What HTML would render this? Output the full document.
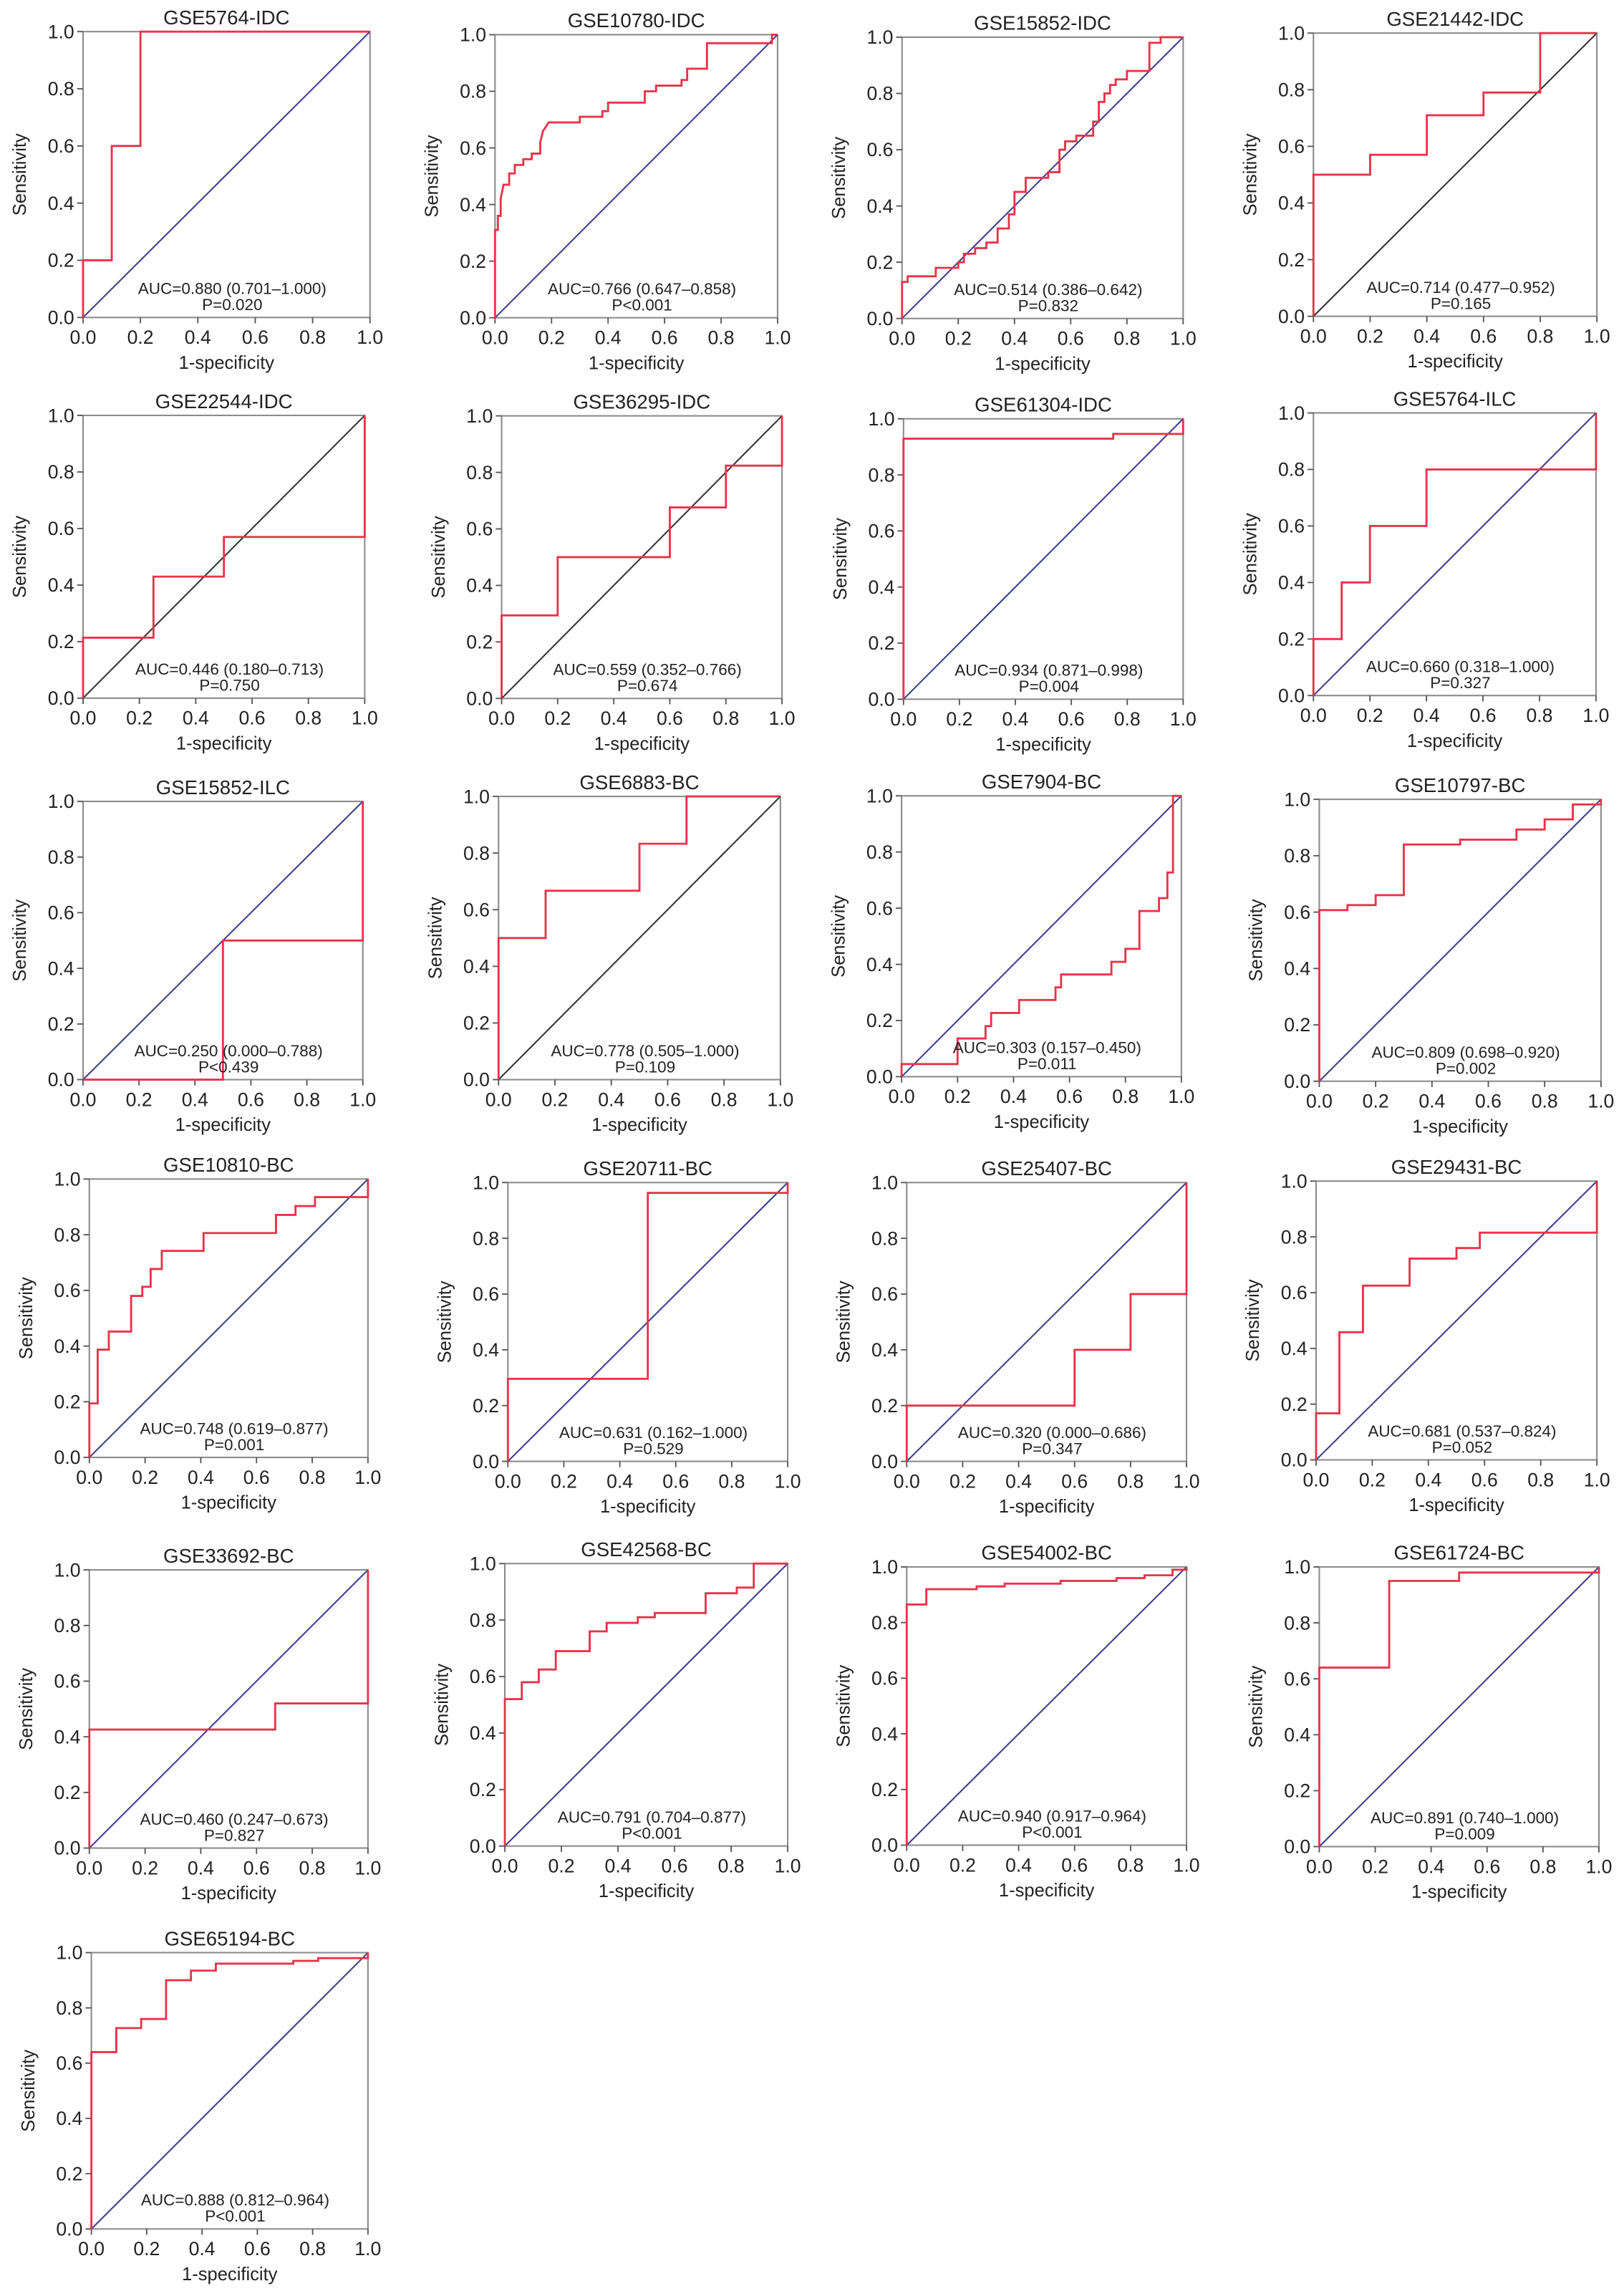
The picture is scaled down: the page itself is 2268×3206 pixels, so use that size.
<!DOCTYPE html>
<html><head><meta charset="utf-8"><style>
html,body{margin:0;padding:0;background:#fff;}
svg{display:block;font-family:"Liberation Sans",Arial,sans-serif;}
</style></head><body>
<svg id="fig" width="2268" height="3206" viewBox="0 0 1109 1568" xmlns="http://www.w3.org/2000/svg"></svg>
<script>
const titles=["GSE5764-IDC","GSE10780-IDC","GSE15852-IDC","GSE21442-IDC","GSE22544-IDC","GSE36295-IDC","GSE61304-IDC","GSE5764-ILC","GSE15852-ILC","GSE6883-BC","GSE7904-BC","GSE10797-BC","GSE10810-BC","GSE20711-BC","GSE25407-BC","GSE29431-BC","GSE33692-BC","GSE42568-BC","GSE54002-BC","GSE61724-BC","GSE65194-BC"];
const aucLabels=["AUC=0.880 (0.701–1.000)","AUC=0.766 (0.647–0.858)","AUC=0.514 (0.386–0.642)","AUC=0.714 (0.477–0.952)","AUC=0.446 (0.180–0.713)","AUC=0.559 (0.352–0.766)","AUC=0.934 (0.871–0.998)","AUC=0.660 (0.318–1.000)","AUC=0.250 (0.000–0.788)","AUC=0.778 (0.505–1.000)","AUC=0.303 (0.157–0.450)","AUC=0.809 (0.698–0.920)","AUC=0.748 (0.619–0.877)","AUC=0.631 (0.162–1.000)","AUC=0.320 (0.000–0.686)","AUC=0.681 (0.537–0.824)","AUC=0.460 (0.247–0.673)","AUC=0.791 (0.704–0.877)","AUC=0.940 (0.917–0.964)","AUC=0.891 (0.740–1.000)","AUC=0.888 (0.812–0.964)"];
const pLabels=["P=0.020","P<0.001","P=0.832","P=0.165","P=0.750","P=0.674","P=0.004","P=0.327","P<0.439","P=0.109","P=0.011","P=0.002","P=0.001","P=0.529","P=0.347","P=0.052","P=0.827","P<0.001","P<0.001","P=0.009","P<0.001"];
const tickValues=[0,0.2,0.4,0.6,0.8,1.0];
const tickLabels=["0.0","0.2","0.4","0.6","0.8","1.0"];
const fprs=[
[0,0,0.1,0.1,0.2,0.2,1],
[0,0,0.01,0.01,0.02,0.02,0.03,0.05,0.05,0.07,0.07,0.1,0.1,0.13,0.13,0.16,0.16,0.17,0.19,0.3,0.3,0.38,0.38,0.4,0.4,0.53,0.53,0.57,0.57,0.66,0.66,0.68,0.68,0.75,0.75,0.98,0.98,1],
[0,0,0.02,0.02,0.12,0.12,0.2,0.2,0.22,0.22,0.26,0.26,0.3,0.3,0.34,0.34,0.38,0.38,0.4,0.4,0.44,0.44,0.52,0.52,0.56,0.56,0.58,0.58,0.62,0.62,0.68,0.68,0.7,0.7,0.72,0.72,0.74,0.74,0.76,0.76,0.8,0.8,0.88,0.88,0.92,0.92,1],
[0,0,0.2,0.2,0.4,0.4,0.6,0.6,0.8,0.8,1],
[0,0,0.25,0.25,0.5,0.5,1,1],
[0,0,0.2,0.2,0.6,0.6,0.8,0.8,1,1],
[0,0,0.75,0.75,1,1],
[0,0,0.1,0.1,0.2,0.2,0.4,0.4,1,1],
[0,0.5,0.5,1,1],
[0,0,0.167,0.167,0.5,0.5,0.667,0.667,1],
[0,0,0.2,0.2,0.3,0.3,0.32,0.32,0.42,0.42,0.55,0.55,0.57,0.57,0.75,0.75,0.8,0.8,0.85,0.85,0.92,0.92,0.95,0.95,0.97,0.97,1],
[0,0,0.1,0.1,0.2,0.2,0.3,0.3,0.5,0.5,0.7,0.7,0.8,0.8,0.9,0.9,1,1],
[0,0,0.03,0.03,0.07,0.07,0.15,0.15,0.19,0.19,0.22,0.22,0.26,0.26,0.41,0.41,0.67,0.67,0.74,0.74,0.81,0.81,1,1],
[0,0,0.5,0.5,1,1],
[0,0,0.6,0.6,0.8,0.8,1,1],
[0,0,0.083,0.083,0.167,0.167,0.333,0.333,0.5,0.5,0.583,0.583,1,1],
[0,0,0.667,0.667,1,1],
[0,0,0.06,0.06,0.12,0.12,0.18,0.18,0.3,0.3,0.36,0.36,0.47,0.47,0.53,0.53,0.71,0.71,0.82,0.82,0.88,0.88,1],
[0,0,0.07,0.07,0.25,0.25,0.35,0.35,0.55,0.55,0.75,0.75,0.85,0.85,0.95,0.95,1,1],
[0,0,0.25,0.25,0.5,0.5,1,1],
[0,0,0.09,0.09,0.18,0.18,0.27,0.27,0.36,0.36,0.45,0.45,0.73,0.73,0.82,0.82,1,1]
];
const tprs=[
[0,0.2,0.2,0.6,0.6,1,1],
[0,0.31,0.31,0.36,0.36,0.42,0.47,0.47,0.51,0.51,0.54,0.54,0.56,0.56,0.58,0.58,0.62,0.66,0.69,0.69,0.71,0.71,0.73,0.73,0.76,0.76,0.8,0.8,0.82,0.82,0.84,0.84,0.88,0.88,0.97,0.97,1,1],
[0,0.13,0.13,0.15,0.15,0.18,0.18,0.2,0.2,0.23,0.23,0.25,0.25,0.27,0.27,0.32,0.32,0.37,0.37,0.45,0.45,0.5,0.5,0.52,0.52,0.6,0.6,0.63,0.63,0.65,0.65,0.7,0.7,0.77,0.77,0.8,0.8,0.83,0.83,0.85,0.85,0.88,0.88,0.98,0.98,1,1],
[0,0.5,0.5,0.57,0.57,0.71,0.71,0.79,0.79,1,1],
[0,0.214,0.214,0.43,0.43,0.57,0.57,1],
[0,0.294,0.294,0.5,0.5,0.676,0.676,0.824,0.824,1],
[0,0.929,0.929,0.946,0.946,1],
[0,0.2,0.2,0.4,0.4,0.6,0.6,0.8,0.8,1],
[0,0,0.5,0.5,1],
[0,0.5,0.5,0.667,0.667,0.833,0.833,1,1],
[0,0.045,0.045,0.136,0.136,0.18,0.18,0.227,0.227,0.273,0.273,0.318,0.318,0.364,0.364,0.409,0.409,0.455,0.455,0.59,0.59,0.636,0.636,0.727,0.727,1,1],
[0,0.607,0.607,0.625,0.625,0.66,0.66,0.84,0.84,0.857,0.857,0.893,0.893,0.929,0.929,0.982,0.982,1],
[0,0.194,0.194,0.387,0.387,0.452,0.452,0.58,0.58,0.613,0.613,0.677,0.677,0.742,0.742,0.806,0.806,0.871,0.871,0.903,0.903,0.935,0.935,1],
[0,0.296,0.296,0.963,0.963,1],
[0,0.2,0.2,0.4,0.4,0.6,0.6,1],
[0,0.167,0.167,0.458,0.458,0.625,0.625,0.722,0.722,0.76,0.76,0.815,0.815,1],
[0,0.426,0.426,0.52,0.52,1],
[0,0.52,0.52,0.58,0.58,0.625,0.625,0.69,0.69,0.76,0.76,0.79,0.79,0.81,0.81,0.825,0.825,0.895,0.895,0.915,0.915,1,1],
[0,0.865,0.865,0.92,0.92,0.93,0.93,0.94,0.94,0.95,0.95,0.96,0.96,0.97,0.97,0.99,0.99,1],
[0,0.64,0.64,0.95,0.95,0.98,0.98,1],
[0,0.64,0.64,0.727,0.727,0.76,0.76,0.9,0.9,0.935,0.935,0.96,0.96,0.97,0.97,0.98,0.98,1]
];
const boxes=[[56.6,252.6,21.6,216.8],[338,531,23.7,217],[616,808,25.4,217.5],[897,1090.6,22.6,216],
[56.6,249,283.7,476.8],[342.5,534,284,477],[617,808,286,477.5],[897,1090,282,475],
[56.6,247.7,547.3,737.3],[340.4,532.9,543.9,737.3],[615.7,806.8,543.5,735.3],[901,1093.4,545.9,738.4],
[60.9,251.2,805.2,995.3],[346.8,537.9,807.6,998],[619.2,810.3,807.6,998],[898.8,1090.6,806.6,997],
[60.9,251.2,1072.1,1262.1],[344.7,537.9,1067.8,1260.7],[619.2,810.3,1070.1,1260.1],[901,1092,1070.1,1261.1],
[62.3,251.2,1333.5,1522.2]];
const diagColors=["#3d3d8f","#3d3d8f","#3d3d8f","#333","#333","#333","#3d3d8f","#3d3d8f","#3d3d8f","#333","#3d3d8f","#3d3d8f","#3d3d8f","#3d3d8f","#3d3d8f","#3d3d8f","#3d3d8f","#3d3d8f","#3d3d8f","#3d3d8f","#3d3d8f"];
const NS="http://www.w3.org/2000/svg";
const svg=document.getElementById('fig');
function mk(tag,attrs,parent,text){const e=document.createElementNS(NS,tag);for(const k in attrs)e.setAttribute(k,attrs[k]);if(text!==undefined)e.textContent=text;parent.appendChild(e);return e;}
titles.forEach((t,i)=>{
  const [L,R,T,B]=boxes[i];
  const sx=v=>L+v*(R-L), sy=v=>B-v*(B-T);
  const g=mk('g',{},svg);
  
  
  const ti=mk('text',{x:(L+R)/2,y:T-5,'text-anchor':'middle','font-size':13.5,fill:'#222'},g,t);
  
  
  const fr=mk('rect',{x:L,y:T,width:R-L,height:B-T,fill:'none',stroke:'#8a8a8a','stroke-width':1},g);
  
  
  tickValues.forEach((v,k)=>{
    mk('line',{x1:sx(v),x2:sx(v),y1:B,y2:B+4,stroke:'#555','stroke-width':0.9},g);
    mk('line',{x1:L-4,x2:L,y1:sy(v),y2:sy(v),stroke:'#555','stroke-width':0.9},g);
    const xl=mk('text',{x:sx(v),y:B+18,'text-anchor':'middle','font-size':13,fill:'#222'},g,tickLabels[k]);
    
    
    const yl=mk('text',{x:L-6,y:sy(v)+4.5,'text-anchor':'end','font-size':13,fill:'#222'},g,tickLabels[k]);
    
    
  });
  const xt=mk('text',{x:(L+R)/2,y:B+35,'text-anchor':'middle','font-size':12.5,fill:'#222'},g,'1-specificity');
  
  
  const cy=(T+B)/2;
  const yt=mk('text',{x:L-39,y:cy,'text-anchor':'middle','font-size':12.5,fill:'#222',transform:`rotate(-90 ${L-39} ${cy})`},g,'Sensitivity');
  
  
  const dg=mk('line',{x1:sx(0),y1:sy(0),x2:sx(1),y2:sy(1),stroke:diagColors[i],'stroke-width':1},g);
  
  
  const pts=fprs[i].map((f,k)=>sx(f).toFixed(2)+','+sy(tprs[i][k]).toFixed(2)).join(' ');
  const c=mk('polyline',{points:pts,fill:'none',stroke:'#e8334a','stroke-width':1.4},g);
  
  
  const cx=L+(R-L)*0.52;
  const a=mk('text',{x:cx,y:B-16,'text-anchor':'middle','font-size':11,fill:'#222'},g,aucLabels[i]);
  
  
  const p=mk('text',{x:cx,y:B-5,'text-anchor':'middle','font-size':11,fill:'#222'},g,pLabels[i]);
  
  
});
</script>
</body></html>
